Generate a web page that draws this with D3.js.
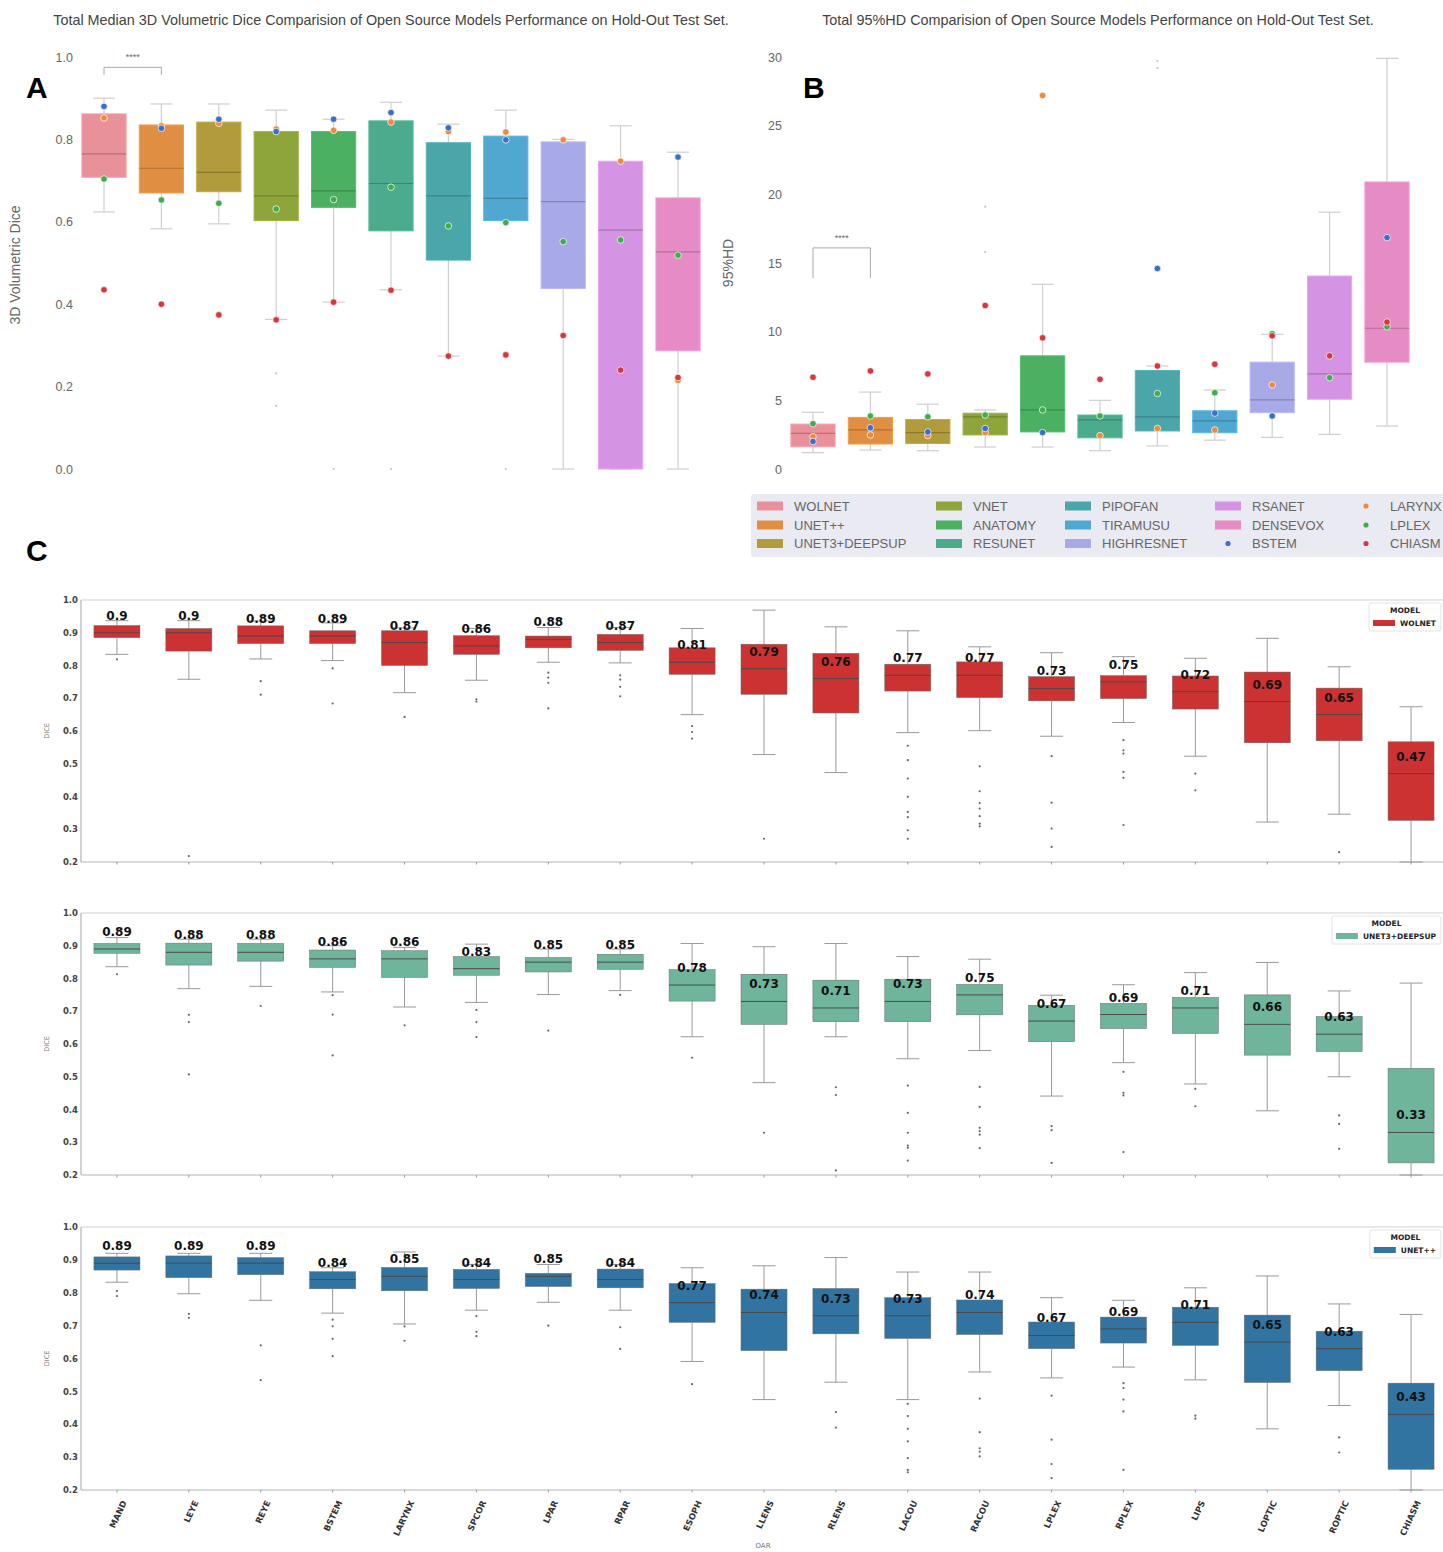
<!DOCTYPE html>
<html><head><meta charset="utf-8">
<script src="https://cdn.jsdelivr.net/npm/d3@7"></script>
<style>body{margin:0;background:#fff}</style>
</head><body>
<svg id="chart" width="1443" height="1552"></svg>
<script>
// ---------- Panels A and B: per-model summary ----------
const models = ["WOLNET","UNET++","UNET3+DEEPSUP","VNET","ANATOMY","RESUNET","PIPOFAN","TIRAMUSU","HIGHRESNET","RSANET","DENSEVOX"];
const modelColors = ["#e8919b","#e08f42","#b29b3c","#8ea53c","#4cb062","#4bab8c","#4ba6aa","#50a8d0","#a8aae8","#d594e3","#e68cc4"];

// [lower whisker, Q1, median, Q3, upper whisker]
const diceStats = [
  [0.624,0.708,0.765,0.862,0.900],
  [0.583,0.670,0.730,0.835,0.886],
  [0.595,0.673,0.720,0.842,0.886],
  [0.363,0.603,0.663,0.819,0.871],
  [0.405,0.635,0.675,0.819,0.849],
  [0.435,0.578,0.693,0.845,0.890],
  [0.274,0.507,0.663,0.792,0.837],
  [0.603,0.603,0.657,0.808,0.871],
  [0.000,0.438,0.649,0.794,0.800],
  [0.000,0.000,0.580,0.747,0.833],
  [0.000,0.287,0.527,0.658,0.769]
];
const diceFliers = [[],[],[],[0.232,0.153],[0.0],[0.0],[],[0.277,0.0],[],[],[]];
const diceBSTEM  = [0.880,0.827,0.849,0.819,0.849,0.865,0.828,0.799,null,null,0.757];
const diceLARYNX = [0.852,0.833,0.839,0.825,0.822,0.842,0.819,0.818,0.799,0.747,0.215];
const diceLPLEX  = [0.704,0.653,0.645,0.631,0.654,0.684,0.590,0.598,0.552,0.556,0.519];
const diceCHIASM = [0.435,0.400,0.374,0.362,0.405,0.434,0.274,0.277,0.324,0.240,0.222];
const diceTicks = [0,0.2,0.4,0.6,0.8,1.0];

const hdStats = [
  [1.19,1.62,2.60,3.27,4.13],
  [1.38,1.82,2.85,3.76,5.60],
  [1.33,1.86,2.65,3.60,4.72],
  [1.60,2.48,3.80,4.06,4.30],
  [1.60,2.70,4.30,8.24,13.45],
  [1.33,2.27,3.57,3.93,5.00],
  [1.68,2.77,3.80,7.17,7.50],
  [2.10,2.64,3.50,4.24,5.75],
  [2.30,4.10,5.03,7.78,9.81],
  [2.52,5.08,6.92,14.05,18.70],
  [3.13,7.78,10.25,20.90,29.90]
];
const hdFliers = [[],[],[],[19.1,15.8],[],[],[29.7,29.2],[],[],[],[]];
const hdBSTEM  = [2.00,3.00,2.70,2.95,2.65,null,14.6,4.07,3.86,null,16.85];
const hdLARYNX = [2.35,2.48,2.43,2.65,27.2,2.43,2.95,2.84,6.12,null,null];
const hdLPLEX  = [3.30,3.86,3.80,3.93,4.30,3.86,5.50,5.55,9.85,6.65,10.35];
const hdCHIASM = [6.68,7.14,6.92,11.9,9.55,6.53,7.50,7.63,9.70,8.24,10.70];
const hdTicks = [0,5,10,15,20,25,30];

const oarDotNames = ["LARYNX","LPLEX","CHIASM","BSTEM"];
const oarDotColors = ["#ee8a3c","#3fae4a","#d9363a","#3b6fc9"];

// ---------- Panel C: per-OAR Dice for three models ----------
const oars = ["MAND","LEYE","REYE","BSTEM","LARYNX","SPCOR","LPAR","RPAR","ESOPH","LLENS","RLENS","LACOU","RACOU","LPLEX","RPLEX","LIPS","LOPTIC","ROPTIC","CHIASM"];
const cTicks = [0.2,0.3,0.4,0.5,0.6,0.7,0.8,0.9,1.0];

const wolnetStats = [
  [0.834,0.885,0.90,0.922,0.937],[0.758,0.844,0.90,0.913,0.937],[0.820,0.867,0.89,0.921,0.936],
  [0.815,0.867,0.89,0.906,0.930],[0.717,0.800,0.87,0.906,0.915],[0.755,0.834,0.86,0.891,0.913],
  [0.810,0.854,0.88,0.890,0.916],[0.808,0.846,0.87,0.895,0.916],[0.650,0.773,0.81,0.854,0.913],
  [0.528,0.712,0.79,0.865,0.969],[0.473,0.655,0.76,0.837,0.918],[0.595,0.722,0.77,0.804,0.906],
  [0.601,0.702,0.77,0.811,0.857],[0.584,0.692,0.73,0.766,0.839],[0.626,0.699,0.75,0.769,0.827],
  [0.523,0.667,0.72,0.768,0.822],[0.322,0.564,0.69,0.780,0.883],[0.346,0.570,0.65,0.731,0.796],
  [0.200,0.327,0.47,0.567,0.674]
];
const wolnetFliers = [
  [0.819],[0.218],[0.752,0.711],[0.791,0.684],[0.643],[0.697,0.690],[0.778,0.763,0.747,0.669],
  [0.770,0.757,0.735,0.706],[0.615,0.597,0.577],[0.271],[],
  [0.555,0.511,0.455,0.399,0.353,0.337,0.297,0.271],[0.492,0.416,0.380,0.363,0.340,0.317,0.309],
  [0.523,0.381,0.302,0.246],[0.572,0.541,0.531,0.475,0.457,0.313],[0.470,0.419],[],[0.230],[]
];

const unet3Stats = [
  [0.836,0.877,0.89,0.907,0.925],[0.769,0.841,0.88,0.908,0.920],[0.776,0.853,0.88,0.907,0.920],
  [0.759,0.834,0.86,0.887,0.900],[0.713,0.803,0.86,0.885,0.895],[0.727,0.810,0.83,0.867,0.905],
  [0.751,0.820,0.85,0.864,0.890],[0.763,0.828,0.85,0.874,0.890],[0.622,0.731,0.78,0.827,0.907],
  [0.482,0.660,0.73,0.813,0.897],[0.622,0.668,0.71,0.795,0.907],[0.555,0.668,0.73,0.798,0.867],
  [0.580,0.689,0.75,0.782,0.859],[0.441,0.607,0.67,0.718,0.749],[0.543,0.647,0.69,0.724,0.781],
  [0.478,0.632,0.71,0.742,0.818],[0.396,0.566,0.66,0.750,0.849],[0.500,0.577,0.63,0.684,0.762],
  [0.200,0.237,0.33,0.526,0.786]
];
const unet3Fliers = [
  [0.813],[0.689,0.667,0.507],[0.716],[0.749,0.690,0.565],[0.657],[0.704,0.667,0.621],[0.641],
  [0.750],[0.558],[0.329],[0.468,0.444,0.214],[0.473,0.390,0.329,0.290,0.283,0.244],
  [0.469,0.408,0.344,0.334,0.323,0.282],[0.349,0.337,0.237],[0.515,0.451,0.443,0.270],
  [0.463,0.410],[],[0.382,0.356,0.280],[]
];

const unetppStats = [
  [0.832,0.869,0.89,0.909,0.920],[0.797,0.846,0.89,0.912,0.920],[0.777,0.855,0.89,0.907,0.920],
  [0.738,0.812,0.84,0.864,0.876],[0.705,0.806,0.85,0.877,0.924],[0.747,0.813,0.84,0.871,0.886],
  [0.771,0.819,0.85,0.859,0.886],[0.747,0.815,0.84,0.872,0.886],[0.591,0.710,0.77,0.828,0.876],
  [0.475,0.624,0.74,0.811,0.882],[0.528,0.675,0.73,0.813,0.907],[0.475,0.661,0.73,0.785,0.863],
  [0.559,0.673,0.74,0.778,0.863],[0.541,0.630,0.67,0.711,0.785],[0.574,0.647,0.69,0.726,0.777],
  [0.535,0.640,0.71,0.756,0.815],[0.386,0.527,0.65,0.732,0.851],[0.457,0.563,0.63,0.683,0.766],
  [0.200,0.263,0.43,0.525,0.734]
];
const unetppFliers = [
  [0.805,0.790],[0.736,0.724],[0.640,0.534],[0.718,0.698,0.660,0.607],[0.698,0.654],
  [0.729,0.681,0.668],[0.700],[0.695,0.629],[0.522],[],[0.437,0.390],
  [0.462,0.425,0.386,0.348,0.297,0.261,0.254],[0.478,0.376,0.327,0.317,0.302],
  [0.487,0.353,0.279,0.236],[0.525,0.510,0.475,0.439,0.261],[0.426,0.417],[],[0.360,0.314],[]
];

// ---------- drawing ----------
const svg = d3.select("#chart");
svg.append("rect").attr("width",1443).attr("height",1552).attr("fill","#fff");
const SANS = "'Liberation Sans', Arial, sans-serif";
const DJ = "'DejaVu Sans', sans-serif";

function drawBoxes(g, cats, stats, x, y, w, opt) {
  cats.forEach((c, i) => {
    const [lo, q1, med, q3, hi] = stats[i];
    const cx = x(c);
    const col = opt.color(i);
    const wg = g.append("g");
    wg.append("line").attr("x1",cx).attr("x2",cx).attr("y1",y(hi)).attr("y2",y(q3))
      .attr("stroke",opt.whisker).attr("stroke-width",opt.ww);
    wg.append("line").attr("x1",cx).attr("x2",cx).attr("y1",y(q1)).attr("y2",y(lo))
      .attr("stroke",opt.whisker).attr("stroke-width",opt.ww);
    [lo, hi].forEach(v => wg.append("line").attr("x1",cx-w/4).attr("x2",cx+w/4)
      .attr("y1",y(v)).attr("y2",y(v)).attr("stroke",opt.whisker).attr("stroke-width",opt.ww));
    wg.append("rect").attr("x",cx-w/2).attr("width",w)
      .attr("y",y(q3)).attr("height",Math.max(0.5,y(q1)-y(q3)))
      .attr("fill",col).attr("stroke",opt.edge(col)).attr("stroke-width",opt.ew);
    wg.append("line").attr("x1",cx-w/2).attr("x2",cx+w/2).attr("y1",y(med)).attr("y2",y(med))
      .attr("stroke",opt.median(col)).attr("stroke-width",opt.mw);
    (opt.fliers[i] || []).forEach(v => wg.append("circle").attr("cx",cx).attr("cy",y(v))
      .attr("r",opt.fr).attr("fill",opt.fc));
  });
}

function drawDots(g, cats, series, colors, x, y, clip) {
  series.forEach((arr, s) => {
    cats.forEach((c, i) => {
      const v = arr[i];
      if (v === null || (clip && v > clip)) return;
      g.append("circle").attr("cx",x(c)).attr("cy",y(v)).attr("r",3.3)
        .attr("fill",colors[s]).attr("stroke","#fff").attr("stroke-width",0.7);
    });
  });
}

function panelLetter(t, x, yb) {
  svg.append("text").attr("x",x).attr("y",yb).text(t)
    .attr("font-family",SANS).attr("font-weight","bold").attr("font-size",30).attr("fill","#000");
}

// --- Panel A ---
const xA = d3.scalePoint().domain(models).range([104, 678]);
const yA = d3.scaleLinear().domain([0,1]).range([469,57]);
const bwA = xA.step()*0.77;
const gA = svg.append("g");
const axA = gA.append("g").attr("transform","translate(76,0)")
  .call(d3.axisLeft(yA).tickValues(diceTicks).tickFormat(d3.format(".1f")).tickSize(0).tickPadding(3));
axA.select(".domain").remove();
axA.selectAll("text").attr("font-family",SANS).attr("font-size",12.5).attr("fill","#666");
drawBoxes(gA, models, diceStats, xA, yA, bwA, {
  color: i => modelColors[i], whisker:"#cfcfcf", ww:1.2,
  edge: c => d3.color(c).brighter(0.25), ew:1,
  median: c => d3.color(c).darker(0.7), mw:1.2,
  fliers: diceFliers, fr:1.1, fc:"#c4c4c4"
});
drawDots(gA, models, [diceLARYNX, diceLPLEX, diceCHIASM, diceBSTEM], oarDotColors, xA, yA);
gA.append("text").attr("x",391).attr("y",25).attr("text-anchor","middle")
  .attr("font-family",SANS).attr("font-size",14.4).attr("fill","#444")
  .text("Total Median 3D Volumetric Dice Comparision of Open Source Models Performance on Hold-Out Test Set.");
gA.append("text").attr("transform",`translate(20,${yA(0.5)+2}) rotate(-90)`).attr("text-anchor","middle")
  .attr("font-family",SANS).attr("font-size",14).attr("fill","#666").text("3D Volumetric Dice");
// significance bracket
gA.append("path").attr("fill","none").attr("stroke","#aaa").attr("stroke-width",1)
  .attr("d",`M${xA(models[0])},${yA(0.957)}V${yA(0.975)}H${xA(models[1])}V${yA(0.957)}`);
gA.append("text").attr("x",(xA(models[0])+xA(models[1]))/2).attr("y",yA(0.992)).attr("text-anchor","middle")
  .attr("font-family",SANS).attr("font-size",9).attr("fill","#666").text("****");
panelLetter("A", 26, 98);

// --- Panel B ---
const xB = d3.scalePoint().domain(models).range([813, 1387]);
const yB = d3.scaleLinear().domain([0,30]).range([469,57]);
const gB = svg.append("g");
const axB = gB.append("g").attr("transform","translate(785,0)")
  .call(d3.axisLeft(yB).tickValues(hdTicks).tickSize(0).tickPadding(3));
axB.select(".domain").remove();
axB.selectAll("text").attr("font-family",SANS).attr("font-size",12.5).attr("fill","#666");
drawBoxes(gB, models, hdStats, xB, yB, bwA, {
  color: i => modelColors[i], whisker:"#cfcfcf", ww:1.2,
  edge: c => d3.color(c).brighter(0.25), ew:1,
  median: c => d3.color(c).darker(0.7), mw:1.2,
  fliers: hdFliers, fr:1.1, fc:"#c4c4c4"
});
drawDots(gB, models, [hdLARYNX, hdLPLEX, hdCHIASM, hdBSTEM], oarDotColors, xB, yB, 30);
gB.append("text").attr("x",1098).attr("y",25).attr("text-anchor","middle")
  .attr("font-family",SANS).attr("font-size",14.4).attr("fill","#444")
  .text("Total 95%HD Comparision of Open Source Models Performance on Hold-Out Test Set.");
gB.append("text").attr("transform",`translate(733,${yB(15)}) rotate(-90)`).attr("text-anchor","middle")
  .attr("font-family",SANS).attr("font-size",14).attr("fill","#666").text("95%HD");
gB.append("path").attr("fill","none").attr("stroke","#aaa").attr("stroke-width",1)
  .attr("d",`M${xB(models[0])},${yB(13.9)}V${yB(16.1)}H${xB(models[1])}V${yB(13.9)}`);
gB.append("text").attr("x",(xB(models[0])+xB(models[1]))/2).attr("y",yB(16.6)).attr("text-anchor","middle")
  .attr("font-family",SANS).attr("font-size",9).attr("fill","#666").text("****");
panelLetter("B", 803, 98);

// --- shared legend for A/B ---
const legItems = models.map((m,i)=>({name:m, color:modelColors[i], kind:"box"}))
  .concat([{name:"BSTEM",color:oarDotColors[3],kind:"dot"},{name:"LARYNX",color:oarDotColors[0],kind:"dot"},
           {name:"LPLEX",color:oarDotColors[1],kind:"dot"},{name:"CHIASM",color:oarDotColors[2],kind:"dot"}]);
const gL = svg.append("g");
gL.append("rect").attr("x",751).attr("y",494).attr("width",700).attr("height",63).attr("rx",3).attr("fill","#eaeaf2");
const legCols = [757, 936, 1065, 1215, 1353], legRows = [506, 525, 543.5];
legItems.forEach((d, k) => {
  const cx = legCols[Math.floor(k/3)], cy = legRows[k%3];
  if (d.kind === "box") gL.append("rect").attr("x",cx).attr("y",cy-4.5).attr("width",26).attr("height",9).attr("fill",d.color);
  else gL.append("circle").attr("cx",cx+13).attr("cy",cy).attr("r",2.6).attr("fill",d.color);
  gL.append("text").attr("x",cx+37).attr("y",cy+4.5).text(d.name)
    .attr("font-family",SANS).attr("font-size",13).attr("fill","#666");
});

panelLetter("C", 26, 561);

// --- Panel C: three stacked per-OAR box plots ---
const xC = d3.scaleBand().domain(oars).range([81, 1447]);
const bwC = xC.bandwidth()*0.64;
const xCc = c => xC(c) + xC.bandwidth()/2;
const cPanels = [
  {stats: wolnetStats, fliers: wolnetFliers, model:"WOLNET", color:"#cd3232", top:600, bottom:862},
  {stats: unet3Stats, fliers: unet3Fliers, model:"UNET3+DEEPSUP", color:"#6fb59c", top:913, bottom:1175},
  {stats: unetppStats, fliers: unetppFliers, model:"UNET++", color:"#3274a1", top:1227, bottom:1490}
];
const fmt = v => String(+v.toFixed(2));
cPanels.forEach((p, pi) => {
  const y = d3.scaleLinear().domain([0.2,1.0]).range([p.bottom, p.top]);
  const g = svg.append("g");
  // frame
  g.append("line").attr("x1",81).attr("x2",1443).attr("y1",p.top).attr("y2",p.top).attr("stroke","#e0e0e0").attr("stroke-width",1.5);
  g.append("line").attr("x1",81).attr("x2",1443).attr("y1",p.bottom).attr("y2",p.bottom).attr("stroke","#b5b5b5").attr("stroke-width",1.2);
  g.append("line").attr("x1",81).attr("x2",81).attr("y1",p.top).attr("y2",p.bottom).attr("stroke","#b5b5b5").attr("stroke-width",1.2);
  const ay = g.append("g").attr("transform","translate(80,0)")
    .call(d3.axisLeft(y).tickValues(cTicks).tickFormat(d3.format(".1f")).tickSize(0).tickPadding(2));
  ay.select(".domain").remove();
  ay.selectAll("text").attr("font-family",DJ).attr("font-weight","bold").attr("font-size",8.5).attr("fill","#444");
  const ax = g.append("g").attr("transform",`translate(0,${p.bottom})`)
    .call(d3.axisBottom(xC).tickSize(2.5).tickFormat(pi === 2 ? (d => d) : ""));
  ax.select(".domain").remove();
  ax.selectAll(".tick line").attr("stroke","#999");
  if (pi === 2) {
    ax.selectAll("text").attr("font-family",DJ).attr("font-weight","bold").attr("font-size",8.5).attr("fill","#333")
      .attr("text-anchor","end").attr("dy",0).attr("transform","translate(5,10) rotate(-65)");
  }
  g.append("text").attr("transform",`translate(49,${(p.top+p.bottom)/2}) rotate(-90)`).attr("text-anchor","middle")
    .attr("font-family",DJ).attr("font-size",6.5).attr("fill","#777").text("DICE");
  drawBoxes(g, oars, p.stats, xCc, y, bwC, {
    color: () => p.color, whisker:"#9a9a9a", ww:1,
    edge: () => "#6a6a6a", ew:0.5,
    median: () => "#4a4a4a", mw:1,
    fliers: p.fliers, fr:1.1, fc:"#666"
  });
  // median labels
  oars.forEach((c, i) => {
    g.append("text").attr("x",xCc(c)).attr("y",y(p.stats[i][2])-13).attr("text-anchor","middle")
      .attr("font-family",DJ).attr("font-weight","bold").attr("font-size",12).attr("fill","#111")
      .text(fmt(p.stats[i][2]));
  });
  // legend
  const lg = g.append("g");
  const box = lg.append("rect").attr("fill","#fff").attr("stroke","#e3e3e3").attr("stroke-width",1).attr("rx",2);
  const nm = lg.append("text").attr("font-family",DJ).attr("font-weight","bold").attr("font-size",7.5)
    .attr("fill","#222").text(p.model);
  const tw = nm.node().getComputedTextLength();
  const right = 1441, w = tw + 36, left = right - w;
  box.attr("x",left).attr("y",p.top+3).attr("width",w).attr("height",28);
  lg.append("text").attr("x",left+w/2).attr("y",p.top+13).attr("text-anchor","middle")
    .attr("font-family",DJ).attr("font-weight","bold").attr("font-size",7.5).attr("fill","#222").text("MODEL");
  lg.append("rect").attr("x",left+4).attr("y",p.top+20).attr("width",22).attr("height",6).attr("fill",p.color);
  nm.attr("x",left+31).attr("y",p.top+26);
});
svg.append("text").attr("x",763).attr("y",1548).attr("text-anchor","middle")
  .attr("font-family",DJ).attr("font-size",7).attr("fill","#777").text("OAR");
</script></body></html>
